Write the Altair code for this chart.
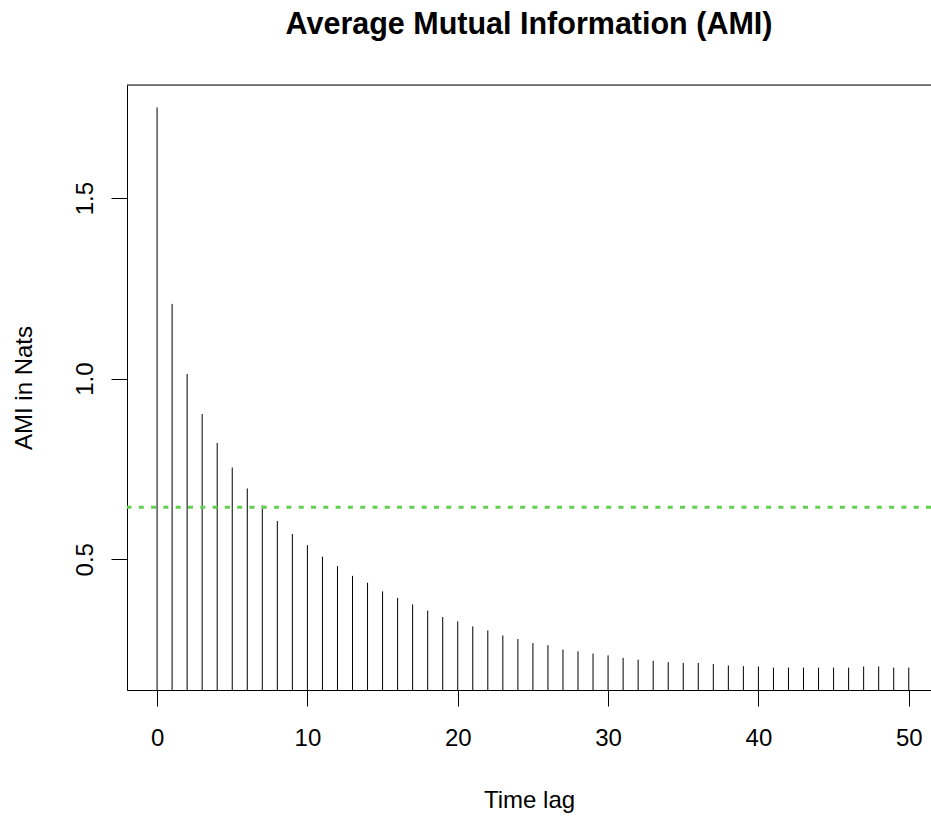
import altair as alt
import pandas as pd

lags = list(range(51))
ami = [1.751, 1.207, 1.013, 0.902, 0.822, 0.754, 0.696, 0.649, 0.606, 0.570,
       0.539, 0.507, 0.481, 0.454, 0.435, 0.411, 0.393, 0.375, 0.358, 0.340,
       0.328, 0.314, 0.303, 0.289, 0.279, 0.268, 0.262, 0.250, 0.245, 0.239,
       0.234, 0.227, 0.222, 0.219, 0.215, 0.213, 0.213, 0.210, 0.206, 0.204,
       0.203, 0.200, 0.200, 0.200, 0.200, 0.200, 0.200, 0.203, 0.203, 0.200,
       0.200]
threshold = [0.644]
x_ticks = [0, 10, 20, 30, 40, 50]
y_ticks = [0.5, 1.0, 1.5]

FONT = "Liberation Sans"

ymin, ymax = min(ami), max(ami)
r = ymax - ymin
y_lo, y_hi = ymin - 0.04 * r, ymax + 0.04 * r
x_lo, x_hi = -2, 51.48

df = pd.DataFrame({"lag": lags, "ami": ami})
thr = pd.DataFrame({"t": threshold})

xscale = alt.Scale(domain=[x_lo, x_hi], nice=False, zero=False)
yscale = alt.Scale(domain=[y_lo, y_hi], nice=False, zero=False)

stems = alt.Chart(df).mark_rule(color="black", strokeWidth=1).encode(
    x=alt.X("lag:Q", scale=xscale,
            axis=alt.Axis(values=x_ticks, title="Time lag", grid=False,
                          domainColor="black", tickColor="black", tickSize=16,
                          labelFont=FONT, labelFontSize=24, labelColor="black",
                          labelPadding=20, labelBaseline="top", labelFlush=False,
                          titleFont=FONT, titleFontSize=24, titleFontWeight="normal",
                          titleColor="black", titleBaseline="alphabetic", titleY=117)),
    y=alt.Y("ami:Q", scale=yscale,
            axis=alt.Axis(values=y_ticks, format=".1f", title="AMI in Nats", grid=False,
                          domainColor="black", tickColor="black", tickSize=16,
                          labelFont=FONT, labelFontSize=24, labelColor="black",
                          labelAngle=270, labelAlign="center", labelBaseline="alphabetic",
                          labelPadding=19, labelFlush=False,
                          titleFont=FONT, titleFontSize=24, titleFontWeight="normal",
                          titleColor="black", titleAngle=270, titleBaseline="alphabetic",
                          titleX=-96)),
    y2=alt.datum(y_lo),
)

top_border = alt.Chart(pd.DataFrame({"top": [y_hi]})).mark_rule(
    color="black", strokeWidth=1).encode(y=alt.Y("top:Q", scale=yscale))

hline = alt.Chart(thr).mark_rule(
    color="#61D04F", strokeWidth=3, strokeDash=[5, 7.3]).encode(
    y=alt.Y("t:Q", scale=yscale))

chart = alt.layer(stems, hline, top_border).properties(
    width=804, height=605,
    autosize=alt.AutoSizeParams(type="none"),
    padding={"left": 127, "top": 85, "right": 0, "bottom": 128},
    title=alt.TitleParams("Average Mutual Information (AMI)", font=FONT, fontSize=30.5,
                          fontWeight="bold", color="black", anchor="middle",
                          frame="group", baseline="alphabetic", offset=20),
).configure_view(stroke=None).configure(background="white")

chart.save("out.html", embed_options={"renderer": "svg", "actions": False})
